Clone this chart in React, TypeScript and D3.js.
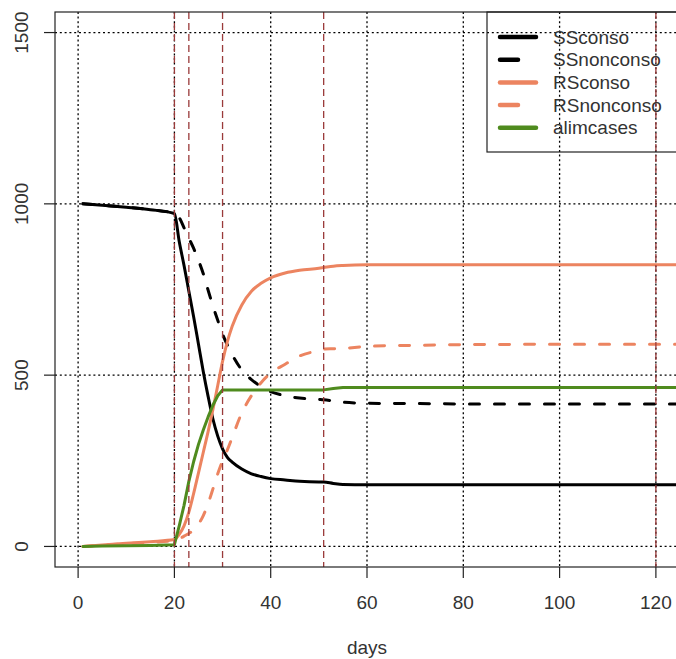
import React from 'react';
import * as d3 from 'd3';

const days = [1, 5, 10, 15, 20, 21, 22, 23, 24, 25, 26, 27, 28, 29, 30, 31, 32, 34, 36, 38, 40, 43, 46, 50, 51, 53, 55, 60, 70, 80, 100, 120, 130];
const SSconso = [1000, 996, 990, 983, 972, 890, 820, 745, 670, 590, 510, 438, 372, 322, 285, 260, 246, 226, 212, 204, 198, 194, 190, 188, 188, 184, 181, 180, 180, 180, 180, 180, 180];
const SSnonconso = [1000, 996, 990, 983, 972, 960, 930, 900, 870, 835, 796, 748, 702, 660, 620, 588, 560, 515, 487, 467, 452, 440, 433, 429, 428, 425, 421, 418, 417, 416, 416, 416, 416];
const RSconso = [0, 4, 9, 14, 20, 35, 60, 100, 155, 215, 275, 335, 400, 470, 540, 598, 643, 705, 745, 768, 784, 798, 806, 812, 814, 818, 820, 822, 822, 822, 822, 822, 822];
const RSnonconso = [0, 4, 8, 12, 18, 22, 30, 38, 48, 65, 90, 125, 168, 212, 250, 282, 318, 390, 440, 478, 506, 532, 556, 572, 576, 577, 578, 584, 587, 589, 590, 590, 590];
const alimcases = [0, 1, 2, 3, 5, 60, 120, 190, 248, 298, 340, 378, 412, 440, 457, 457, 457, 457, 457, 457, 457, 457, 457, 457, 457, 461, 464, 464, 464, 464, 464, 464, 464];

const xTicks = [0, 20, 40, 60, 80, 100, 120];
const yTicks = [0, 500, 1000, 1500];
const interventionDays = [20, 23, 30, 51, 120];
const legendNames = ['SSconso', 'SSnonconso', 'RSconso', 'RSnonconso', 'alimcases'];

const ORANGE = '#EC8460';
const GREEN = '#4F8B1E';

const seriesDefs = [
  { name: 'SSconso', values: SSconso, color: '#000', dashed: false, curve: d3.curveMonotoneX },
  { name: 'SSnonconso', values: SSnonconso, color: '#000', dashed: true, curve: d3.curveMonotoneX },
  { name: 'RSconso', values: RSconso, color: ORANGE, dashed: false, curve: d3.curveMonotoneX },
  { name: 'RSnonconso', values: RSnonconso, color: ORANGE, dashed: true, curve: d3.curveMonotoneX },
  { name: 'alimcases', values: alimcases, color: GREEN, dashed: false, curve: d3.curveLinear },
];

const W = 676;
const H = 659;
const L = 55, R = 679, T = 12, B = 567;

export default function App() {
  const x = d3.scaleLinear().domain([-4.8, 124.8]).range([L, R]);
  const y = d3.scaleLinear().domain([-60, 1560]).range([B, T]);
  const font = '"Liberation Sans", Arial, sans-serif';
  const textColor = '#333';
  const fs = 19;

  const lineFor = (vals: number[], curve: any) =>
    d3.line<number>()
      .x((_, i) => x(days[i]))
      .y((v) => y(v))
      .curve(curve)(vals) as string;

  const legendX0 = 500, legendX1 = 536, legendTextX = 553;
  const legendRowY = (i: number) => 37 + i * 22.7;

  return (
    <svg width={W} height={H} style={{ position: 'absolute', left: 0, top: 0, display: 'block', background: '#fff' }}>
      <defs>
        <clipPath id="plotclip">
          <rect x={L} y={T} width={R - L} height={B - T} />
        </clipPath>
      </defs>
      <rect x={0} y={0} width={W} height={H} fill="#fff" />
      {/* grid */}
      <g clipPath="url(#plotclip)">
        {xTicks.map((t) => (
          <line key={'gx' + t} x1={x(t)} x2={x(t)} y1={T} y2={B} stroke="#000" strokeWidth={1.3} strokeDasharray="2,2.6" />
        ))}
        {yTicks.map((t) => (
          <line key={'gy' + t} x1={L} x2={R} y1={y(t)} y2={y(t)} stroke="#000" strokeWidth={1.3} strokeDasharray="2,2.8" />
        ))}
      </g>
      {/* series */}
      <g clipPath="url(#plotclip)">
        {seriesDefs.map((s) => (
          <path
            key={s.name}
            d={lineFor(s.values, s.curve)}
            fill="none"
            stroke={s.color}
            strokeWidth={3}
            strokeLinecap="round"
            strokeLinejoin="round"
            strokeDasharray={s.dashed ? '10,15' : undefined}
          />
        ))}
        {interventionDays.map((d) => (
          <line key={'v' + d} x1={x(d)} x2={x(d)} y1={T} y2={B} stroke="#9A3A3A" strokeWidth={1.3} strokeDasharray="7,4" />
        ))}
      </g>
      {/* box */}
      <rect x={L} y={T} width={R - L} height={B - T} fill="none" stroke="#222" strokeWidth={1.2} />
      {/* x axis */}
      {xTicks.map((t) => (
        <g key={'xt' + t}>
          <line x1={x(t)} x2={x(t)} y1={B} y2={B + 11} stroke="#222" strokeWidth={1.2} />
          <text x={x(t)} y={602.5} dy="0.35em" textAnchor="middle" fontFamily={font} fontSize={fs} fill={textColor}>{t}</text>
        </g>
      ))}
      {/* y axis */}
      {yTicks.map((t) => (
        <g key={'yt' + t}>
          <line x1={L - 11} x2={L} y1={y(t)} y2={y(t)} stroke="#222" strokeWidth={1.2} />
          <text transform={`translate(21.5,${y(t)}) rotate(-90)`} dy="0.35em" textAnchor="middle" fontFamily={font} fontSize={fs} fill={textColor}>{t}</text>
        </g>
      ))}
      <text x={(L + R) / 2} y={654} textAnchor="middle" fontFamily={font} fontSize={fs} fill={textColor}>days</text>
      {/* legend */}
      <rect x={487} y={T} width={R - 487} height={152 - T} fill="none" stroke="#222" strokeWidth={1.2} />
      {seriesDefs.map((s, i) => (
        <g key={'lg' + s.name}>
          <line
            x1={legendX0} x2={legendX1} y1={legendRowY(i)} y2={legendRowY(i)}
            stroke={s.color} strokeWidth={4.5} strokeLinecap="round"
            strokeDasharray={s.dashed ? '18,23' : undefined}
          />
          <text x={legendTextX} y={legendRowY(i)} dy="0.35em" fontFamily={font} fontSize={fs} fill={textColor}>{legendNames[i]}</text>
        </g>
      ))}
    </svg>
  );
}
